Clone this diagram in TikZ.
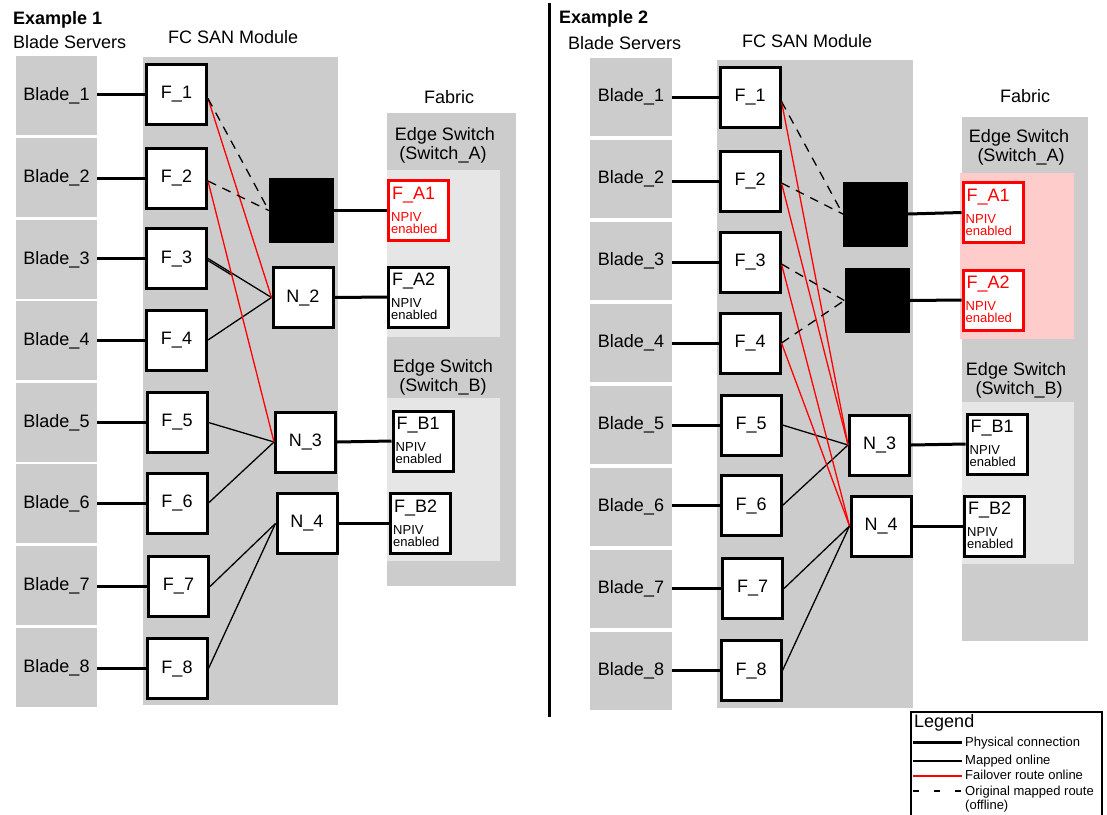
\documentclass[tikz,border=0pt]{standalone}
\usepackage{fontspec}
\setmainfont{Liberation Sans}
\usetikzlibrary{calc}
\definecolor{modgray}{HTML}{CCCCCC}
\definecolor{litegray}{HTML}{E6E6E6}
\definecolor{pinkbg}{HTML}{FFCCCC}
\newcommand\bigf{\fontsize{18pt}{21pt}\selectfont}
\newcommand\smallf{\fontsize{13pt}{12pt}\selectfont}
\newcommand\portlabels[3]{%
  \node[anchor=base west, inner sep=0, font=\bigf, text=#3] (#1-t) at ($(#1.north west)+(5,20)$) {#2};
  \node[anchor=base west, inner sep=0, font=\smallf, text=#3] (#1-n) at ($(#1.north west)+(4,42)$) {NPIV};
  \node[anchor=base west, inner sep=0, font=\smallf, text=#3] (#1-e) at ($(#1.north west)+(4,54)$) {enabled};
}
\begin{document}
\begin{tikzpicture}[x=1pt,y=-1pt,
  bladebox/.style={fill=modgray, minimum width=81pt, minimum height=79pt, inner sep=0, font=\bigf},
  fcbox/.style={draw=black, line width=3pt, fill=white, minimum width=60pt, minimum height=60pt, inner sep=0, font=\bigf},
  deadbox/.style={fill=black, minimum width=65pt, minimum height=65pt, inner sep=0},
  portbox/.style={draw=black, line width=3pt, fill=white, minimum width=60pt, minimum height=60pt, inner sep=0},
  lbl/.style={inner sep=0, font=\bigf},
  phys/.style={line width=3pt},
  mapped/.style={line width=1.3pt},
  failover/.style={line width=1.3pt, draw=red},
  offline/.style={line width=1.3pt, dash pattern=on 9pt off 7pt}
]
\useasboundingbox (0,0) rectangle (1107,814);
\fill[white] (0,0) rectangle (1107,814);

% ================= Example 1 =================
\node[lbl, anchor=base west, font=\bigf\bfseries] (a-title) at (13,24) {Example 1};
\node[lbl, anchor=base west] (a-bs) at (13,48) {Blade Servers};
\node[lbl, anchor=base west] (a-fc) at (168,43) {FC SAN Module};
\node[lbl, anchor=base] (a-fab) at (449,103) {Fabric};

\fill[modgray] (143,57) rectangle (338,705);
\fill[modgray] (387,113) rectangle (516,586);
\fill[litegray] (387,170) rectangle (500,337);
\fill[litegray] (387,398) rectangle (500,561);

\node[lbl, anchor=base] (a-esa1) at (445,140) {Edge Switch};
\node[lbl, anchor=base] (a-esa2) at (443,159) {(Switch\_A)};
\node[lbl, anchor=base] (a-esb1) at (443,372) {Edge Switch};
\node[lbl, anchor=base] (a-esb2) at (443,391) {(Switch\_B)};

\foreach \i/\y in {1/95.5,2/177.5,3/259.5,4/340.5,5/422.5,6/503.5,7/585.5,8/667.5}
  \node[bladebox] (a-b\i) at (56.5,\y) {Blade\_\i};

\foreach \i/\x/\y in {1/176.5/94.5,2/176.5/178,3/176.5/258.5,4/176.5/340,5/177/422.5,6/177/503,7/178.5/586.5,8/177/668.5}
  \node[fcbox] (a-f\i) at (\x,\y) {F\_\i};

\node[deadbox] (a-n1) at (301.5,210.5) {};
\node[fcbox] (a-n2) at (303,297.5) {N\_2};
\node[fcbox] (a-n3) at (305.5,442) {N\_3};
\node[fcbox] (a-n4) at (307,523.5) {N\_4};

\node[portbox, draw=red] (a-fa1) at (418.5,210.5) {};
\portlabels{a-fa1}{F\_A1}{red}
\node[portbox] (a-fa2) at (418.5,297) {};
\portlabels{a-fa2}{F\_A2}{black}
\node[portbox] (a-fb1) at (423,441) {};
\portlabels{a-fb1}{F\_B1}{black}
\node[portbox] (a-fb2) at (420.5,523.5) {};
\portlabels{a-fb2}{F\_B2}{black}

\foreach \i in {1,...,8}
  \draw[phys] (a-b\i.east |- a-f\i.west) -- (a-f\i.west);
\draw[phys] (a-n1.east) -- (a-fa1.west);
\draw[phys] (a-n2.east) -- (a-fa2.west);
\draw[phys] (a-n3.east) -- (a-fb1.west);
\draw[phys] (a-n4.east) -- (a-fb2.west);

\draw[mapped] (a-f3.east) -- (a-n2.west);
\draw[mapped] ([yshift=-2pt]a-f3.east) -- ($(a-f3.east)!0.38!(a-n2.west)+(0,2)$);
\draw[mapped] (a-f4.east) -- (a-n2.west);
\draw[mapped] (a-f5.east) -- (a-n3.west);
\draw[mapped] (a-f6.east) -- (a-n3.west);
\draw[mapped] (a-f7.east) -- (a-n4.west);
\draw[mapped] (a-f8.east) -- (a-n4.west);

\draw[failover] ([yshift=-4pt]a-f1.east) -- (a-n2.west);
\draw[failover] ([yshift=-3pt]a-f2.east) -- (a-n3.west);

\draw[offline] ([yshift=-4pt]a-f1.east) -- (a-n1.west);
\draw[offline] ([yshift=-3pt]a-f2.east) -- (a-n1.west);

% separator
\coordinate (sep-top) at (549,3);
\coordinate (sep-bot) at (549,717);
\draw[line width=3pt] (sep-top) -- (sep-bot);

% ================= Example 2 =================
\node[lbl, anchor=base west, font=\bigf\bfseries] (b-title) at (559,23) {Example 2};
\node[lbl, anchor=base west] (b-bs) at (568,49) {Blade Servers};
\node[lbl, anchor=base west] (b-fc) at (742,47) {FC SAN Module};
\node[lbl, anchor=base] (b-fab) at (1025,102) {Fabric};

\fill[modgray] (717,60) rectangle (913,708);
\fill[modgray] (962,117) rectangle (1088,641);
\fill[pinkbg] (960,173) rectangle (1074,339);
\fill[litegray] (962,402) rectangle (1074,564);

\node[lbl, anchor=base] (b-esa1) at (1019,142) {Edge Switch};
\node[lbl, anchor=base] (b-esa2) at (1021,161) {(Switch\_A)};
\node[lbl, anchor=base] (b-esb1) at (1016,375) {Edge Switch};
\node[lbl, anchor=base] (b-esb2) at (1019,394) {(Switch\_B)};

\foreach \i/\y in {1/97,2/179,3/261,4/343,5/425,6/507,7/589,8/671}
  \node[bladebox, minimum width=82pt, minimum height=78pt] (b-b\i) at (631,\y) {Blade\_\i};

\foreach \i/\x/\y in {1/750/97.5,2/750/181,3/750/262,4/750/343,5/751/425,6/751/505.5,7/752.5/588.5,8/751/670.5}
  \node[fcbox] (b-f\i) at (\x,\y) {F\_\i};

\node[deadbox] (b-n1) at (875.5,214) {};
\node[deadbox] (b-n2) at (877,300.5) {};
\node[fcbox] (b-n3) at (879.5,445) {N\_3};
\node[fcbox] (b-n4) at (881,526) {N\_4};

\node[portbox, draw=red] (b-fa1) at (993,212.5) {};
\portlabels{b-fa1}{F\_A1}{red}
\node[portbox, draw=red] (b-fa2) at (993,300) {};
\portlabels{b-fa2}{F\_A2}{red}
\node[portbox] (b-fb1) at (997,444) {};
\portlabels{b-fb1}{F\_B1}{black}
\node[portbox] (b-fb2) at (994.5,526) {};
\portlabels{b-fb2}{F\_B2}{black}

\foreach \i in {1,...,8}
  \draw[phys] (b-b\i.east |- b-f\i.west) -- (b-f\i.west);
\draw[phys] (b-n1.east) -- (b-fa1.west);
\draw[phys] (b-n2.east) -- (b-fa2.west);
\draw[phys] (b-n3.east) -- (b-fb1.west);
\draw[phys] (b-n4.east) -- (b-fb2.west);

\draw[mapped] (b-f5.east) -- (b-n3.west);
\draw[mapped] (b-f6.east) -- (b-n3.west);
\draw[mapped] (b-f7.east) -- (b-n4.west);
\draw[mapped] (b-f8.east) -- (b-n4.west);

\draw[failover] ([yshift=-4pt]b-f1.east) -- (b-n3.west);
\draw[failover] ([yshift=-2pt]b-f2.east) -- (b-n3.west);
\draw[failover] ([yshift=-2pt]b-f3.east) -- (b-n4.west);
\draw[failover] (b-f4.east) -- (b-n4.west);

\draw[offline] ([yshift=-4pt]b-f1.east) -- (b-n1.west);
\draw[offline] ([yshift=-2pt]b-f2.east) -- (b-n1.west);
\draw[offline] ([yshift=-2pt]b-f3.east) -- (b-n2.west);
\draw[offline] (b-f4.east) -- (b-n2.west);

% ================= Legend =================
\draw[line width=2pt] (911,712) rectangle (1102,830);
\node[lbl, anchor=base west] (leg) at (914,727) {Legend};
\coordinate (l1a) at (913,742); \coordinate (l1b) at (962,742);
\coordinate (l2a) at (913,761); \coordinate (l2b) at (962,761);
\coordinate (l3a) at (913,776); \coordinate (l3b) at (962,776);
\coordinate (l4a) at (913,791); \coordinate (l4b) at (962,791);
\draw[phys] (l1a) -- (l1b);
\draw[mapped] (l2a) -- (l2b);
\draw[failover] (l3a) -- (l3b);
\draw[line width=1.3pt, dash pattern=on 6pt off 15pt] (l4a) -- (l4b);
\node[anchor=base west, inner sep=0, font=\smallf] (leg1) at (965,746) {Physical connection};
\node[anchor=base west, inner sep=0, font=\smallf] (leg2) at (965,764) {Mapped online};
\node[anchor=base west, inner sep=0, font=\smallf] (leg3) at (965,779) {Failover route online};
\node[anchor=base west, inner sep=0, font=\smallf] (leg4) at (965,795) {Original mapped route};
\node[anchor=base west, inner sep=0, font=\smallf] (leg5) at (965,809) {(offline)};
\end{tikzpicture}
\end{document}
